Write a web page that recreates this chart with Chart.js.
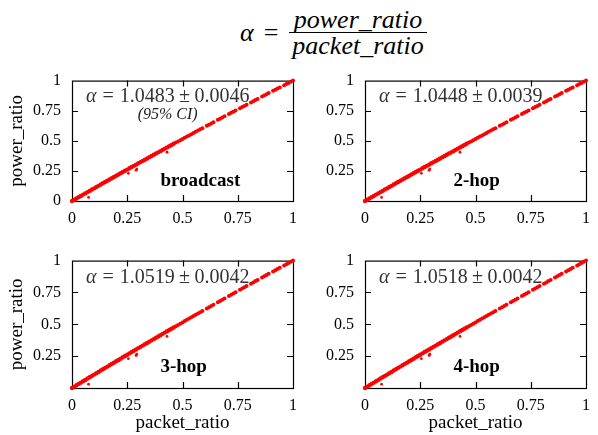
<!DOCTYPE html>
<html>
<head>
<meta charset="utf-8">
<script src="https://cdn.jsdelivr.net/npm/chart.js@4.4.1/dist/chart.umd.min.js"></script>
<style>
  body { margin: 0; background: #fff; }
  #wrap { position: relative; width: 598px; height: 435px; font-family: "Liberation Serif", "Times New Roman", Times, serif; color: #000; }
  canvas { position: absolute; }
  #title { position: absolute; left: 240px; top: 7px; display: flex; align-items: center; font-size: 26px; font-family: "Liberation Serif", "Times New Roman", Times, serif; }
  #title .frac { display: flex; flex-direction: column; align-items: center; margin-left: 11px; }
  #title .frac div { font-style: italic; line-height: 25px; padding: 0 3px; }
  #title .frac .den { border-top: 1.3px solid #000; }
</style>
</head>
<body>
<div id="wrap">
  <div id="title">
    <span style="font-style:italic">α</span><span style="margin-left:10px">=</span>
    <div class="frac"><div>power_ratio</div><div class="den">packet_ratio</div></div>
  </div>
  <canvas id="c0" width="305" height="180" style="left:0;top:60px"></canvas>
  <canvas id="c1" width="293" height="180" style="left:305px;top:60px"></canvas>
  <canvas id="c2" width="305" height="195" style="left:0;top:240px"></canvas>
  <canvas id="c3" width="293" height="195" style="left:305px;top:240px"></canvas>
</div>
<script>
'use strict';

// measured points (packet_ratio -> power_ratio), same cloud in every panel
const packetRatio = [
  0, 0.01, 0.02, 0.03, 0.04, 0.05, 0.06, 0.07, 0.08, 0.09,
  0.10, 0.11, 0.12, 0.13, 0.14, 0.15, 0.16, 0.17, 0.18, 0.19,
  0.20, 0.21, 0.22, 0.23, 0.24, 0.25, 0.26, 0.27, 0.28, 0.29,
  0.30, 0.31, 0.32, 0.33, 0.34, 0.35, 0.36, 0.37, 0.38, 0.39,
  0.40, 0.41, 0.42, 0.43, 0.44, 0.45, 0.46, 0.47, 0.48, 0.49,
  0.50, 0.51, 0.52, 0.53, 0.54, 0.55, 0.56, 0.57, 0.58, 0.59,
  0.61, 0.62, 0.63, 0.64, 0.66, 0.67, 0.68, 0.69, 0.71, 0.72,
  0.73, 0.74, 0.76, 0.77, 0.78, 0.79, 0.81, 0.82, 0.83, 0.84,
  0.86, 0.87, 0.88, 0.89, 0.91, 0.92, 0.93, 0.94, 0.96, 0.97,
  0.98, 0.99, 1.00,
];
const powerRatio = [
  0, 0.011, 0.021, 0.032, 0.042, 0.053, 0.063, 0.074, 0.084, 0.095,
  0.105, 0.116, 0.126, 0.137, 0.147, 0.158, 0.168, 0.178, 0.189, 0.199,
  0.210, 0.220, 0.230, 0.241, 0.251, 0.261, 0.272, 0.282, 0.292, 0.302,
  0.313, 0.323, 0.333, 0.343, 0.353, 0.364, 0.374, 0.384, 0.394, 0.404,
  0.414, 0.425, 0.435, 0.445, 0.455, 0.465, 0.475, 0.485, 0.495, 0.505,
  0.515, 0.525, 0.535, 0.545, 0.555, 0.565, 0.575, 0.585, 0.595, 0.605,
  0.624, 0.634, 0.644, 0.654, 0.674, 0.683, 0.693, 0.703, 0.722, 0.732,
  0.742, 0.752, 0.771, 0.781, 0.790, 0.800, 0.819, 0.829, 0.839, 0.848,
  0.867, 0.877, 0.886, 0.896, 0.915, 0.924, 0.934, 0.943, 0.962, 0.972,
  0.981, 0.991, 1.000,
];
// the few points that fall below the line
const outlierX = [0.075, 0.255, 0.29, 0.293, 0.43];
const outlierY = [0.03, 0.23, 0.255, 0.265, 0.405];

const panelNames = ['broadcast', '2-hop', '3-hop', '4-hop'];
const alphaMean = ['1.0483', '1.0448', '1.0519', '1.0518'];
const alphaCI = ['0.0046', '0.0039', '0.0042', '0.0042'];
const tickValues = [0, 0.25, 0.5, 0.75, 1];
const tickLabels = ['0', '0.25', '0.5', '0.75', '1'];

const serif = '"Liberation Serif", "Times New Roman", Times, serif';
const red = '#ff0000';

function tickLabel(value, skipZero) {
  let k = tickValues.indexOf(value);
  if(k < 0 || (skipZero && k === 0)) {
    return '';
  }
  return tickLabels[k];
}

// closed frame with short inward ticks on every side
const framePlugin = {
  id: 'frame',
  beforeDatasetsDraw(chart) {
    let { ctx, chartArea: a, scales: { x, y } } = chart;
    ctx.save();
    ctx.strokeStyle = '#000';
    ctx.lineWidth = 1.2;
    ctx.strokeRect(a.left + 0.5, a.top + 0.5, a.right - a.left, a.bottom - a.top);
    ctx.beginPath();
    [0.25, 0.5, 0.75].forEach(v => {
      let px = Math.round(x.getPixelForValue(v)) + 0.5;
      let py = Math.round(y.getPixelForValue(v)) + 0.5;
      ctx.moveTo(px, a.bottom); ctx.lineTo(px, a.bottom - 6);
      ctx.moveTo(px, a.top); ctx.lineTo(px, a.top + 6);
      ctx.moveTo(a.left, py); ctx.lineTo(a.left + 6, py);
      ctx.moveTo(a.right, py); ctx.lineTo(a.right - 6, py);
    });
    ctx.stroke();
    ctx.restore();
  },
};

// alpha estimate and panel name inside the plot
const labelPlugin = {
  id: 'panelLabels',
  afterDraw(chart) {
    let { ctx, scales: { x, y } } = chart;
    let i = chart.options.panelIndex;
    ctx.save();
    ctx.textBaseline = 'alphabetic';
    ctx.textAlign = 'left';

    let size = 20;
    let parts = [
      { t: 'α', f: `italic ${size}px ${serif}`, gap: 0.3 },
      { t: '=', f: `${size}px ${serif}`, gap: 0.3 },
      { t: alphaMean[i], f: `${size}px ${serif}`, gap: 0.22 },
      { t: '±', f: `${size}px ${serif}`, gap: 0.22 },
      { t: alphaCI[i], f: `${size}px ${serif}`, gap: 0 },
    ];
    let total = 0;
    parts.forEach(p => {
      ctx.font = p.f;
      p.w = ctx.measureText(p.t).width;
      total += p.w + p.gap * size;
    });
    let cx = x.getPixelForValue(0.433);
    let px = cx - total / 2;
    let py = y.getPixelForValue(0.823);
    ctx.fillStyle = '#333';
    parts.forEach(p => {
      ctx.font = p.f;
      ctx.fillText(p.t, px, py);
      px += p.w + p.gap * size;
    });

    if(i === 0) {
      ctx.font = `italic 16px ${serif}`;
      ctx.textAlign = 'center';
      ctx.fillStyle = '#222';
      ctx.fillText('(95% CI)', cx, y.getPixelForValue(0.68));
    }

    ctx.font = `bold 19px ${serif}`;
    ctx.textAlign = 'left';
    ctx.fillStyle = '#000';
    ctx.fillText(panelNames[i], x.getPixelForValue(0.4), y.getPixelForValue(0.125));
    ctx.restore();
  },
};

function makePanel(i) {
  let leftCol = i % 2 === 0;
  let bottomRow = i >= 2;
  let tickFont = { family: serif, size: 16 };
  let titleFont = { family: serif, size: 19, lineHeight: 1.2 };
  let cloud = packetRatio.map((v, k) => ({ x: v, y: powerRatio[k] }));
  let low = outlierX.map((v, k) => ({ x: v, y: outlierY[k] }));

  return new Chart(document.getElementById('c' + i), {
    type: 'scatter',
    data: {
      datasets: [
        {
          data: cloud,
          backgroundColor: red,
          borderWidth: 0,
          pointRadius: ctx => (ctx.raw && ctx.raw.x < 0.47 ? 2.2 : 2),
          clip: 4,
        },
        {
          data: low,
          backgroundColor: red,
          borderWidth: 0,
          pointRadius: 1.4,
          clip: 4,
        },
      ],
    },
    options: {
      panelIndex: i,
      responsive: false,
      animation: false,
      events: [],
      layout: {
        padding: { top: bottomRow ? 18 : 11, right: leftCol ? 4 : 3, left: 0, bottom: 0 },
      },
      plugins: {
        legend: { display: false },
        tooltip: { enabled: false },
      },
      scales: {
        x: {
          type: 'linear',
          min: 0,
          max: 1,
          afterBuildTicks: s => { s.ticks = tickValues.map(v => ({ value: v })); },
          ticks: {
            padding: 8,
            color: '#000',
            font: tickFont,
            maxRotation: 0,
            callback: v => tickLabel(v, false),
          },
          grid: { display: false, drawTicks: false },
          border: { display: false },
          title: {
            display: bottomRow,
            text: 'packet_ratio',
            color: '#000',
            font: titleFont,
            padding: { top: 0, bottom: 1 },
          },
          afterFit: s => { s.height = bottomRow ? 47 : 39; },
        },
        y: {
          type: 'linear',
          min: 0,
          max: 1,
          afterBuildTicks: s => { s.ticks = tickValues.map(v => ({ value: v })); },
          ticks: {
            padding: 11,
            color: '#000',
            font: tickFont,
            callback: v => tickLabel(v, i !== 0),
          },
          grid: { display: false, drawTicks: false },
          border: { display: false },
          title: {
            display: leftCol,
            text: 'power_ratio',
            color: '#000',
            font: titleFont,
            padding: { top: 6, bottom: 0 },
          },
          afterFit: s => { s.width = leftCol ? 72 : 60; },
        },
      },
    },
    plugins: [framePlugin, labelPlugin],
  });
} //makePanel

[0, 1, 2, 3].forEach(makePanel);
</script>
</body>
</html>
